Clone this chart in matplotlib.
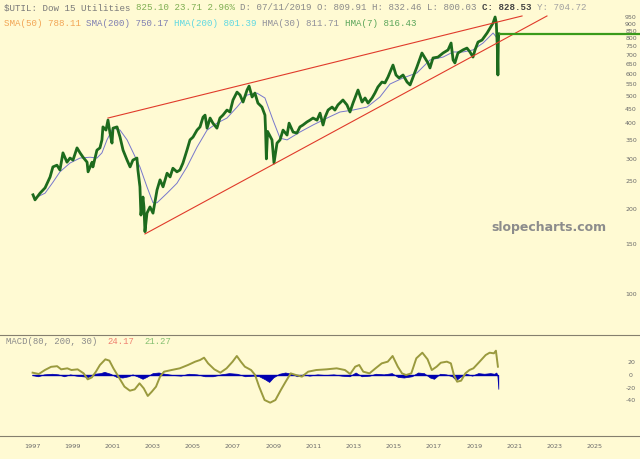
import matplotlib.pyplot as plt
from matplotlib.ticker import NullLocator, NullFormatter, FixedLocator, FixedFormatter

# price of $UTIL
price_years = [1997.05, 1997.15, 1997.40, 1997.65, 1997.90, 1998.04, 1998.24, 1998.39, 1998.54, 1998.74,
               1998.89, 1999.04, 1999.24, 1999.39, 1999.54, 1999.74, 1999.79, 1999.99, 2000.03, 2000.23,
               2000.38, 2000.48, 2000.53, 2000.68, 2000.78, 2000.88, 2000.98, 2001.03, 2001.23, 2001.38,
               2001.53, 2001.73, 2001.88, 2002.02, 2002.22, 2002.27, 2002.37, 2002.42, 2002.52, 2002.57,
               2002.62, 2002.72, 2002.87, 2003.02, 2003.22, 2003.37, 2003.52, 2003.72, 2003.87, 2004.01,
               2004.21, 2004.36, 2004.51, 2004.71, 2004.86, 2005.01, 2005.21, 2005.36, 2005.51, 2005.61,
               2005.71, 2005.86, 2006.00, 2006.20, 2006.35, 2006.50, 2006.70, 2006.85, 2007.00, 2007.20,
               2007.35, 2007.50, 2007.70, 2007.80, 2007.95, 2008.09, 2008.24, 2008.44, 2008.59, 2008.62,
               2008.66, 2008.72, 2008.94, 2009.04, 2009.19, 2009.34, 2009.49, 2009.69, 2009.79, 2009.99,
               2010.18, 2010.33, 2010.48, 2010.68, 2010.83, 2010.98, 2011.18, 2011.33, 2011.48, 2011.58,
               2011.73, 2011.93, 2012.07, 2012.22, 2012.47, 2012.67, 2012.82, 2012.97, 2013.22, 2013.42,
               2013.57, 2013.72, 2013.92, 2014.06, 2014.21, 2014.41, 2014.56, 2014.71, 2014.96, 2015.11,
               2015.26, 2015.46, 2015.66, 2015.81, 2015.96, 2016.15, 2016.40, 2016.55, 2016.70, 2016.80,
               2016.95, 2017.20, 2017.45, 2017.70, 2017.85, 2017.95, 2018.04, 2018.19, 2018.44, 2018.64,
               2018.79, 2018.94, 2019.04, 2019.19, 2019.39, 2019.64, 2019.79, 2019.94, 2020.04, 2020.10,
               2020.15, 2020.18, 2020.20, 2020.22]
price_vals = [224, 215, 227, 237, 259, 281, 285, 274, 315, 292,
              302, 297, 328, 315, 304, 292, 270, 292, 281, 322,
              328, 350, 389, 379, 411, 370, 341, 385, 389, 358,
              322, 297, 281, 297, 302, 274, 239, 190, 220, 203,
              166, 193, 203, 193, 233, 253, 239, 267, 259, 278,
              270, 274, 290, 322, 350, 358, 379, 389, 421, 428,
              385, 418, 401, 385, 418, 428, 446, 439, 484, 516,
              504, 476, 525, 542, 496, 512, 472, 457, 428, 380,
              300, 375, 350, 290, 341, 350, 379, 364, 401, 373,
              370, 389, 395, 405, 411, 418, 411, 435, 395, 421,
              446, 457, 446, 465, 484, 465, 439, 472, 525, 476,
              492, 472, 492, 512, 538, 560, 556, 583, 643, 593,
              579, 593, 560, 547, 583, 633, 709, 681, 654, 628,
              681, 686, 709, 727, 769, 670, 654, 709, 727, 738,
              715, 686, 727, 775, 788, 834, 869, 905, 950, 905,
              744, 593, 769, 828.53]

sma200_years = [1997.25, 1997.65, 1998.04, 1998.39, 1998.89, 1999.39, 1999.89, 2000.23, 2000.48, 2000.73,
                2001.03, 2001.38, 2001.73, 2002.02, 2002.37, 2002.72, 2003.02, 2003.22, 2003.72, 2004.21,
                2004.71, 2005.21, 2005.71, 2006.20, 2006.70, 2007.20, 2007.70, 2008.19, 2008.59, 2008.99,
                2009.34, 2009.69, 2010.33, 2010.98, 2011.68, 2012.32, 2012.97, 2013.67, 2014.31, 2014.81,
                2015.46, 2016.15, 2016.80, 2017.45, 2017.95, 2018.44, 2018.94, 2019.44, 2019.94, 2020.10]
sma200_vals = [220, 227, 248, 270, 290, 302, 304, 302, 315, 350,
               385, 379, 350, 317, 281, 239, 210, 210, 227, 246,
               281, 330, 379, 401, 418, 457, 504, 512, 492, 411,
               355, 350, 373, 395, 418, 439, 446, 457, 496, 551,
               579, 603, 670, 686, 715, 715, 727, 769, 834, 807]

upper_trend_years = [2000.78, 2021.38]
upper_trend_vals = [418, 958]
lower_trend_years = [2002.62, 2022.62]
lower_trend_vals = [163, 958]
last_close = 828.53

price_ticks = [100, 150, 200, 250, 300, 350, 400, 450, 500, 550, 600, 650, 700, 750, 800, 850, 900, 950]

macd_years = [1997.03, 1997.34, 1997.64, 1997.95, 1998.25, 1998.45, 1998.76, 1998.96, 1999.27, 1999.57,
              1999.77, 1999.98, 2000.18, 2000.38, 2000.65, 2000.85, 2001.05, 2001.30, 2001.60, 2001.87,
              2002.11, 2002.35, 2002.56, 2002.76, 2002.96, 2003.17, 2003.37, 2003.57, 2003.94, 2004.35,
              2004.76, 2005.12, 2005.36, 2005.56, 2005.76, 2006.07, 2006.37, 2006.68, 2006.98, 2007.19,
              2007.39, 2007.59, 2007.90, 2008.10, 2008.30, 2008.57, 2008.85, 2009.11, 2009.38, 2009.62,
              2009.87, 2010.13, 2010.43, 2010.74, 2011.14, 2011.65, 2012.16, 2012.57, 2012.83, 2013.08,
              2013.28, 2013.48, 2013.79, 2014.09, 2014.40, 2014.70, 2014.94, 2015.20, 2015.41, 2015.61,
              2015.87, 2016.12, 2016.42, 2016.68, 2016.89, 2017.13, 2017.34, 2017.64, 2017.84, 2017.99,
              2018.15, 2018.35, 2018.56, 2018.76, 2018.96, 2019.27, 2019.57, 2019.77, 2019.98, 2020.08,
              2020.18]
macd_vals = [3.7, 1.6, 7.9, 13, 14, 9, 10.6, 7.9, 9, 2.6,
             -6.9, -3.7, 5.3, 15.9, 24.9, 22.8, 10.6, -2.6, -18.5, -24.9,
             -22.8, -13.2, -21.2, -33.3, -26.5, -18.5, -2.6, 5.3, 7.9, 10.6,
             15.9, 21.2, 23.8, 27.5, 18.5, 9, 3.7, 10.6, 21.2, 30.2,
             21.2, 13.2, 7.9, 0, -18.5, -39.7, -43.9, -39.7, -23.8, -10.6,
             2.6, 0, -2.6, 5.3, 7.9, 9, 10.6, 7.9, 1.6, 13.2,
             15.9, 5.3, 2.6, 10.6, 18.5, 21.2, 30.2, 13.2, 2.6, 0,
             2.6, 26.5, 35.4, 24.9, 7.9, 13.2, 19.5, 21.2, 18.5, 0,
             -10.6, -9, 2.6, 7.9, 10.6, 21.2, 31.7, 35.4, 34.4, 38.6,
             13.2]

hist_years = [1997.0, 1997.3, 1997.6, 1998.0, 1998.3, 1998.6, 1998.9, 1999.2, 1999.5, 1999.8,
              2000.1, 2000.4, 2000.6, 2000.9, 2001.2, 2001.5, 2001.8, 2002.0, 2002.3, 2002.5,
              2002.7, 2003.0, 2003.3, 2003.6, 2004.0, 2004.4, 2004.8, 2005.2, 2005.6, 2006.0,
              2006.4, 2006.8, 2007.2, 2007.6, 2008.0, 2008.3, 2008.6, 2008.8, 2009.0, 2009.3,
              2009.6, 2009.9, 2010.2, 2010.5, 2010.8, 2011.2, 2011.6, 2012.0, 2012.4, 2012.8,
              2013.1, 2013.4, 2013.8, 2014.1, 2014.5, 2014.9, 2015.2, 2015.5, 2015.9, 2016.2,
              2016.5, 2016.8, 2017.0, 2017.3, 2017.6, 2017.9, 2018.1, 2018.3, 2018.6, 2018.9,
              2019.2, 2019.5, 2019.8, 2020.0, 2020.1, 2020.15, 2020.2]
hist_vals = [0, -2, 1, 2, 1, -2, 1, -1, -2, -3,
             2, 3, 5, 2, -3, -4, -2, 1, -3, -6,
             -3, 3, 4, 2, 0, -1, 2, 1, -2, -2,
             1, 3, 2, -2, -1, -2, -7, -11, -4, 2,
             4, 2, -2, 1, -1, 1, 0, 1, -1, -2,
             4, -2, -1, 2, 1, 3, -3, -4, -2, 4,
             3, -4, -6, 2, 1, -2, -8, -3, 2, -1,
             3, 2, 3, 2, 4, 0, -22]

macd_ticks = [20, 0, -20, -40]
year_ticks = list(range(1997, 2027, 2))

bg = '#fffad3'
W, H = 640.0, 459.0
xlim = (1997 - 32 / 20.1, 1997 + 608 / 20.1)

fig = plt.figure(figsize=(6.4, 4.59), dpi=100, facecolor=bg)

# main price panel
ax = fig.add_axes([0, 1 - 335 / H, 1, 335 / H], facecolor=bg)
ax.set_yscale('log')
ax.set_xlim(xlim)
ax.set_ylim(71.7, 1090.8)
for s in ax.spines.values():
    s.set_visible(False)
ax.xaxis.set_major_locator(NullLocator())
ax.yaxis.set_minor_locator(NullLocator())
ax.yaxis.set_minor_formatter(NullFormatter())
ax.yaxis.set_major_locator(FixedLocator(price_ticks))
ax.yaxis.set_major_formatter(FixedFormatter([str(t) for t in price_ticks]))
ax.yaxis.tick_right()
ax.tick_params(axis='y', length=0, pad=-6.5, labelsize=4.5, labelcolor='#6a6a6a')
for lab in ax.get_yticklabels():
    lab.set_horizontalalignment('center')

ax.plot(sma200_years, sma200_vals, color='#7777cc', lw=0.7, zorder=2)
ax.plot(price_years, price_vals, color='#1d6b1d', lw=2.0, zorder=3)
ax.plot(upper_trend_years, upper_trend_vals, color='#e03a2a', lw=0.8, zorder=4)
ax.plot(lower_trend_years, lower_trend_vals, color='#e03a2a', lw=0.8, zorder=4)
ax.hlines(last_close, price_years[-1], xlim[1], color='#3a9a1a', lw=1.6, zorder=4)

ax.text(607 / W, (335 - 228) / 335, 'slopecharts.com', transform=ax.transAxes,
        ha='right', va='center', fontsize=9, fontweight='bold', color='#8c8c8c')

# MACD panel
ax2 = fig.add_axes([0, 1 - 436 / H, 1, 101 / H], facecolor=bg)
ax2.set_xlim(xlim)
ax2.set_ylim(-96.8, 63.5)
ax2.spines['left'].set_visible(False)
ax2.spines['right'].set_visible(False)
ax2.spines['top'].set_color('#857f6e')
ax2.spines['bottom'].set_color('#857f6e')
ax2.set_yticks(macd_ticks)
ax2.set_yticklabels([str(t) for t in macd_ticks])
ax2.yaxis.tick_right()
ax2.tick_params(axis='y', length=0, pad=-6.5, labelsize=4.5, labelcolor='#6a6a6a')
for lab in ax2.get_yticklabels():
    lab.set_horizontalalignment('center')
ax2.set_xticks(year_ticks)
ax2.set_xticklabels([str(y) for y in year_ticks])
ax2.tick_params(axis='x', length=0, pad=5.5, labelsize=4.6, labelcolor='#6a6a6a')

ax2.fill_between(hist_years, 0, hist_vals, color='#0000b0', lw=0.5, zorder=2)
ax2.hlines(0, hist_years[0], hist_years[-1], color='#0000b0', lw=1.0, zorder=2)
ax2.plot(macd_years, macd_vals, color='#9a9a3e', lw=1.4, zorder=3)

# header texts, monospace, placed by character column
cw = 6.6 * 100 / 72 * 0.6
mono = 'Liberation Mono'


def put(col, row_y, s, color, weight='normal', size=6.6, x0=4):
    fig.text((x0 + col * cw) / W, 1 - row_y / H, s, family=mono, fontsize=size,
             color=color, fontweight=weight, ha='left', va='center')


put(0, 8, '$UTIL: Dow 15 Utilities', '#7a7a7a')
put(24, 8, '825.10 23.71 2.96%', '#7fae52')
put(43, 8, 'D: 07/11/2019 O: 809.91 H: 832.46 L: 800.03', '#8a8a8a')
put(87, 8, 'C: 828.53', '#444444', weight='bold')
put(97, 8, 'Y: 704.72', '#a0a0a0')

put(0, 24, 'SMA(50) 788.11', '#f2a555')
put(15, 24, 'SMA(200) 750.17', '#7f7fb2')
put(31, 24, 'HMA(200) 801.39', '#5fd8e2')
put(47, 24, 'HMA(30) 811.71', '#8f8f9a')
put(62, 24, 'HMA(7) 816.43', '#5aa55a')

cw2 = 6.4 * 100 / 72 * 0.6
fig.text(6 / W, 1 - 342 / H, 'MACD(80, 200, 30)', family=mono, fontsize=6.4, color='#8a8a8a', va='center')
fig.text((6 + 19 * cw2) / W, 1 - 342 / H, '24.17', family=mono, fontsize=6.4, color='#f08070', va='center')
fig.text((6 + 26 * cw2) / W, 1 - 342 / H, '21.27', family=mono, fontsize=6.4, color='#85c070', va='center')

fig.savefig('out.png', dpi=100, facecolor=bg)
